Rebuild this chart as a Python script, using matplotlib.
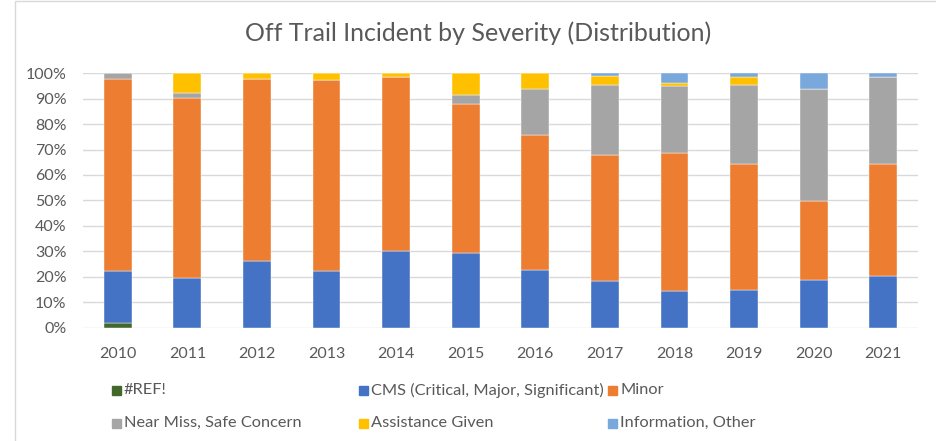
import matplotlib
matplotlib.use('Agg')
import matplotlib.pyplot as plt
import numpy as np
from matplotlib.patches import Rectangle

years = ['2010', '2011', '2012', '2013', '2014', '2015',
         '2016', '2017', '2018', '2019', '2020', '2021']

# share of incidents (%) per severity
ref = [1.7, 0, 0, 0, 0, 0, 0, 0, 0, 0, 0, 0]
cms = [20.4, 19.4, 26.0, 22.1, 30.1, 29.2, 22.5, 18.2, 14.5, 14.9, 18.5, 20.2]
minor = [75.8, 70.9, 71.9, 75.4, 68.6, 58.9, 53.4, 49.6, 54.3, 49.6, 31.4, 44.3]
near_miss = [2.1, 2.0, 0, 0, 0, 3.5, 18.1, 27.7, 26.3, 31.0, 44.1, 34.1]
assistance = [0, 7.7, 2.1, 2.5, 1.3, 8.4, 6.0, 3.6, 1.2, 3.1, 0, 0]
info = [0, 0, 0, 0, 0, 0, 0, 0.9, 3.7, 1.4, 6.0, 1.4]

series_names = ['#REF!', 'CMS (Critical, Major, Significant)', 'Minor',
                'Near Miss, Safe Concern', 'Assistance Given', 'Information, Other']
series = [ref, cms, minor, near_miss, assistance, info]
colors = ['#43682b', '#4472c4', '#ed7d31', '#a5a5a5', '#ffc000', '#79a9dc']

plt.rcParams['font.family'] = ['Lato', 'DejaVu Sans']
txt = '#595959'

fig = plt.figure(figsize=(9.36, 4.41), dpi=100)
ax = fig.add_axes([83 / 936, 1 - 327.5 / 441, 835 / 936, 254.2 / 441])

x = np.arange(len(years))
bottom = np.zeros(len(years))
for vals, col in zip(series, colors):
    vals = np.array(vals)
    ax.bar(x, vals, 0.4, bottom=bottom, color=col, edgecolor='white',
           linewidth=0.3, zorder=3)
    bottom += vals

ax.set_xlim(-0.5, len(years) - 0.5)
ax.set_ylim(0, 100)
ax.set_yticks(range(0, 101, 10))
ax.set_yticklabels([f'{v}%' for v in range(0, 101, 10)])
ax.set_xticks(x)
ax.set_xticklabels(years)
ax.tick_params(axis='both', length=0, labelsize=11.5, colors=txt)
ax.tick_params(axis='x', pad=14)
ax.tick_params(axis='y', pad=12)
ax.grid(axis='y', color='#d9d9d9', linewidth=1, zorder=0)
for s in ax.spines.values():
    s.set_visible(False)

fig.text(478 / 936, 1 - 33 / 441, 'Off Trail Incident by Severity (Distribution)',
         ha='center', va='center', fontsize=18, color=txt)

# legend, laid out like the Excel one
cols_x = [112, 359, 608, 112, 359, 608]
rows_y = [390, 390, 390, 423, 423, 423]
for name, col, lx, ly in zip(series_names, colors, cols_x, rows_y):
    fig.patches.append(Rectangle((lx / 936, 1 - (ly + 4.5) / 441), 8.5 / 936, 9 / 441,
                                 transform=fig.transFigure, color=col))
    fig.text((lx + 12) / 936, 1 - ly / 441, name, ha='left', va='center',
             fontsize=11.8, color=txt)

# chart area border
fig.patches.append(Rectangle((15 / 936, -0.1), 1.2, 1.1 - 1 / 441,
                             transform=fig.transFigure, fill=False,
                             edgecolor='#d9d9d9', linewidth=1))

fig.savefig('out.png', dpi=100)
